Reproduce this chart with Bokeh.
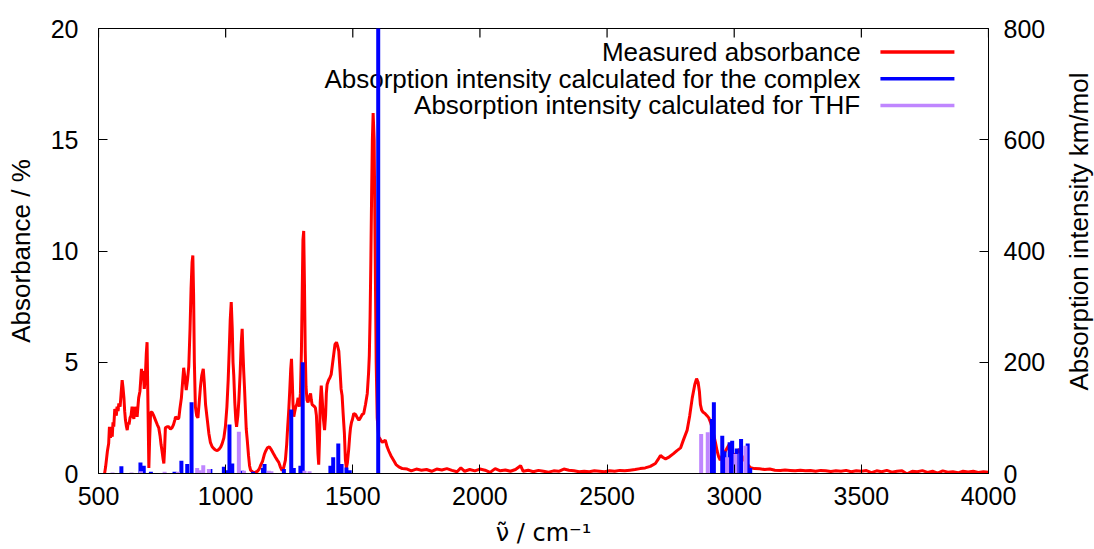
import math
from bokeh.plotting import figure
from bokeh.layouts import row
from bokeh.models import Range1d, LinearAxis, FixedTicker, Label
from bokeh.embed import file_html
from bokeh.resources import INLINE

FONT = "Liberation Sans"

# ---------------- data ----------------
red_x = [524, 528, 531, 535, 540, 543, 547, 550, 554, 557, 560, 564, 567, 570, 573, 577, 580, 585, 589, 593,
         596, 600, 603, 606, 610, 613, 617, 620, 624, 628, 632, 636, 639, 643, 647, 652, 655, 658, 663, 666,
         669, 672, 676, 680, 684, 688, 691, 694, 698, 701, 705, 711, 717, 724, 731, 737, 742, 746, 750, 754,
         757, 760, 763, 770, 776, 783, 789, 795, 800, 803, 808, 812, 816, 820, 826, 830, 835, 840, 845, 850,
         855, 860, 864, 868, 871, 874, 877, 881, 886, 891, 896, 901, 906, 912, 916, 921, 927, 934, 940, 947,
         955, 961, 967, 975, 981, 986, 993, 999, 1005, 1010, 1014, 1018, 1022, 1026, 1029, 1032, 1036, 1040, 1043, 1048,
         1052, 1057, 1061, 1065, 1068, 1071, 1074, 1078, 1081, 1085, 1090, 1094, 1098, 1105, 1110, 1117, 1125, 1132, 1137, 1145,
         1152, 1157, 1164, 1172, 1178, 1183, 1190, 1196, 1203, 1209, 1215, 1222, 1228, 1235, 1240, 1244, 1248, 1252, 1256, 1259,
         1262, 1265, 1268, 1272, 1276, 1281, 1285, 1290, 1294, 1298, 1301, 1304, 1307, 1310, 1313, 1316, 1320, 1324, 1328, 1334,
         1337, 1340, 1345, 1350, 1353, 1357, 1360, 1363, 1366, 1369, 1372, 1376, 1380, 1384, 1389, 1393, 1396, 1399, 1405, 1410,
         1415, 1420, 1425, 1430, 1436, 1440, 1445, 1450, 1454, 1458, 1462, 1467, 1471, 1475, 1479, 1484, 1488, 1491, 1495, 1498,
         1504, 1511, 1518, 1524, 1530, 1537, 1543, 1550, 1557, 1562, 1565, 1568, 1571, 1574, 1577, 1580, 1584, 1588, 1592, 1596,
         1602, 1610, 1616, 1622, 1628, 1635, 1642, 1650, 1661, 1670, 1681, 1695, 1714, 1730, 1750, 1770, 1790, 1810, 1830, 1850,
         1870, 1890, 1910, 1925, 1940, 1960, 1980, 2000, 2020, 2040, 2060, 2080, 2100, 2120, 2140, 2160, 2170, 2190, 2210, 2230,
         2250, 2270, 2290, 2310, 2330, 2350, 2370, 2390, 2410, 2430, 2450, 2470, 2490, 2510, 2530, 2550, 2570, 2590, 2610, 2630,
         2650, 2670, 2690, 2700, 2710, 2720, 2730, 2745, 2760, 2775, 2789, 2800, 2815, 2825, 2835, 2845, 2852, 2858, 2863, 2867,
         2872, 2878, 2885, 2893, 2900, 2907, 2913, 2920, 2926, 2933, 2939, 2945, 2953, 2960, 2970, 2980, 2990, 3000, 3010, 3020,
         3030, 3040, 3050, 3057, 3064, 3080, 3100, 3120, 3140, 3160, 3182, 3200, 3220, 3240, 3260, 3280, 3300, 3320, 3340, 3360,
         3380, 3400, 3420, 3440, 3460, 3480, 3500, 3520, 3540, 3560, 3580, 3600, 3620, 3640, 3660, 3680, 3700, 3720, 3740, 3760,
         3780, 3800, 3820, 3840, 3860, 3880, 3900, 3920, 3940, 3960, 3980, 4000]
red_y = [0.0, 0.3, 0.6, 1.0, 1.35, 2.1, 1.6, 2.1, 1.65, 2.3, 2.1, 2.9, 2.8, 2.6, 3.0, 2.8, 3.15, 3.0, 3.6, 4.2,
         3.9, 3.4, 2.8, 2.4, 2.1, 1.95, 2.3, 2.2, 2.5, 2.6, 3.0, 2.6, 2.45, 3.0, 2.8, 2.55, 3.0, 3.4, 3.7, 4.2,
         4.7, 4.3, 4.6, 3.8, 4.3, 5.4, 5.9, 3.5, 0.25, 1.5, 2.75, 2.75, 2.6, 2.4, 2.2, 2.05, 1.7, 1.3, 1.0, 0.65,
         0.45, 1.1, 2.05, 2.1, 2.1, 2.0, 2.05, 2.2, 2.4, 2.55, 2.5, 2.45, 2.5, 2.9, 3.4, 4.0, 4.75, 4.3, 3.75, 4.2,
         4.8, 6.5, 8.3, 9.5, 9.8, 8.0, 5.0, 3.0, 2.6, 2.5, 3.2, 3.9, 4.4, 4.7, 4.1, 3.1, 2.5, 1.8, 1.4, 1.2,
         1.1, 1.05, 1.03, 1.1, 1.2, 1.33, 1.6, 2.1, 3.0, 4.2, 5.5, 6.9, 7.7, 6.5, 5.0, 4.4, 3.2, 2.4, 2.1, 2.6,
         3.3, 4.5, 5.8, 6.5, 5.5, 4.6, 3.9, 2.8, 2.0, 1.5, 0.8, 0.35, 0.15, 0.08, 0.05, 0.06, 0.1, 0.2, 0.35, 0.55,
         0.85, 1.0, 1.15, 1.2, 1.1, 1.0, 0.85, 0.73, 0.6, 0.5, 0.3, 0.13, 0.25, 0.6, 1.3, 2.1, 2.8, 3.7, 4.7, 5.15,
         4.2, 3.1, 2.55, 2.8, 3.0, 3.15, 3.4, 3.0, 3.6, 5.5, 8.0, 10.5, 10.9, 8.5, 5.5, 3.9, 3.3, 3.2, 3.4, 3.6,
         3.3, 3.1, 3.05, 3.0, 2.95, 2.6, 1.8, 0.9, 0.4, 1.5, 3.2, 3.95, 3.3, 2.5, 1.95, 2.6, 3.6, 4.0, 4.2, 4.3,
         4.45, 4.9, 5.35, 5.8, 5.9, 5.75, 5.5, 4.6, 3.8, 3.5, 2.7, 1.8, 0.6, 0.25, 0.5, 1.1, 1.7, 2.05, 2.3, 2.4,
         2.7, 2.65, 2.5, 2.4, 2.5, 2.65, 2.7, 3.1, 3.6, 4.5, 5.3, 7.0, 9.5, 12.5, 15.0, 16.2, 15.0, 10.0, 5.0, 2.5,
         1.65, 1.5, 1.4, 1.45, 1.5, 1.2, 1.0, 0.8, 0.58, 0.4, 0.3, 0.22, 0.2, 0.12, 0.2, 0.15, 0.18, 0.1, 0.2, 0.16,
         0.22, 0.14, 0.08, 0.25, 0.1, 0.18, 0.12, 0.2, 0.15, 0.05, 0.22, 0.12, 0.16, 0.1, 0.18, 0.35, 0.1, 0.15, 0.08, 0.14,
         0.1, 0.06, 0.12, 0.1, 0.2, 0.15, 0.12, 0.08, 0.1, 0.08, 0.12, 0.1, 0.08, 0.12, 0.1, 0.14, 0.12, 0.15, 0.18, 0.22,
         0.25, 0.32, 0.45, 0.62, 0.81, 0.72, 0.66, 0.75, 0.88, 1.03, 1.15, 1.5, 1.95, 2.6, 3.4, 4.0, 4.26, 4.1, 3.7, 3.1,
         2.85, 2.75, 2.7, 2.6, 2.5, 2.3, 2.05, 1.7, 1.4, 1.0, 0.75, 0.6, 0.8, 0.9, 1.1, 1.3, 1.0, 0.8, 0.9, 1.1,
         0.8, 0.6, 0.45, 0.35, 0.26, 0.22, 0.21, 0.18, 0.2, 0.15, 0.13, 0.16, 0.14, 0.12, 0.15, 0.12, 0.13, 0.1, 0.14, 0.12,
         0.09, 0.12, 0.1, 0.14, 0.08, 0.12, 0.1, 0.13, 0.04, 0.12, 0.08, 0.14, 0.06, 0.1, 0.12, -0.02, 0.1, 0.08, 0.13, 0.05,
         0.1, 0.02, 0.12, 0.06, 0.08, 0.03, 0.1, 0.07, 0.1, 0.05, 0.08, 0.06]

complex_x = [590, 665, 678, 706, 799, 826, 849, 866, 940, 993, 1003, 1015, 1026, 1065, 1108, 1147, 1153,
             1229, 1258, 1268, 1294, 1303, 1412, 1423, 1443, 1456, 1475, 1488, 1600,
             2912, 2920, 2953, 2962, 2982, 2992, 3010, 3027, 3053, 3063]
complex_int = [13, 20, 14, 3, 3, 23, 17, 128, 8, 12, 6, 88, 18, 5, 3, 10, 17,
               8, 115, 10, 14, 200, 14, 29, 54, 17, 11, 6, 1200,
               98, 128, 68, 40, 56, 59, 45, 62, 54, 10]

thf_x = [555, 630, 667, 760, 812, 888, 898, 912, 934, 1052, 1072, 1170, 1180, 1310, 1330,
         2870, 2896, 2972, 3005, 3044]
thf_int = [2, 2, 4, 3, 3, 10, 6, 15, 8, 75, 5, 5, 4, 5, 4,
           71, 74, 29, 35, 50]

x_ticks = [500, 1000, 1500, 2000, 2500, 3000, 3500, 4000]
y_ticks = [0, 5, 10, 15, 20]
y2_ticks = [0, 200, 400, 600, 800]

x_title = "ν̃ / cm⁻¹"
y_title = "Absorbance / %"
y2_title = "Absorption intensity km/mol"
legend_labels = ["Measured absorbance",
                 "Absorption intensity calculated for the complex",
                 "Absorption intensity calculated for THF"]
colors = ["#ff0000", "#0000ff", "#bf86ff"]

X_MIN, X_MAX, Y_MIN, Y_MAX, Y2_MAX = 500, 4000, 0, 20, 800

TOTAL_W, TOTAL_H = 1094, 549
STRIP_W = 40                      # narrow strip that carries the right-axis title
TOP, BOTTOM = 28, 76

# ---------------- main figure ----------------
p = figure(width=TOTAL_W - STRIP_W, height=TOTAL_H, x_range=Range1d(X_MIN, X_MAX),
           y_range=Range1d(Y_MIN, Y_MAX), output_backend="svg", toolbar_location=None,
           min_border_left=98, min_border_right=106 - STRIP_W, min_border_top=TOP,
           min_border_bottom=BOTTOM)
p.extra_y_ranges = {"int": Range1d(0, Y2_MAX)}
p.xgrid.visible = False
p.ygrid.visible = False
p.outline_line_color = "black"
p.outline_line_width = 1
p.outline_line_alpha = 1.0
p.background_fill_color = "white"
p.border_fill_color = "white"


def style(ax, ticks):
    ax.ticker = FixedTicker(ticks=ticks)
    ax.major_tick_in = 9
    ax.major_tick_out = 0
    ax.minor_tick_in = 0
    ax.minor_tick_out = 0
    ax.major_tick_line_color = "black"
    ax.axis_line_color = "black"
    ax.major_label_text_font = FONT
    ax.major_label_text_color = "black"
    ax.major_label_text_font_size = "25px"
    ax.axis_label_text_font = FONT
    ax.axis_label_text_font_style = "normal"
    ax.axis_label_text_color = "black"
    ax.axis_label_text_font_size = "26px"


style(p.xaxis[0], x_ticks)
p.xaxis[0].axis_label = x_title
p.xaxis[0].axis_label_text_font = "DejaVu Sans"
p.xaxis[0].axis_label_text_font_size = "24px"
p.xaxis[0].major_label_standoff = 13
p.xaxis[0].axis_label_standoff = 11

style(p.yaxis[0], y_ticks)
p.yaxis[0].axis_label = y_title
p.yaxis[0].major_label_standoff = 20
p.yaxis[0].axis_label_standoff = 12

right = LinearAxis(y_range_name="int")
style(right, y2_ticks)
right.major_label_standoff = 15
p.add_layout(right, "right")

# mirrored tick marks along the top edge
p.segment(x0=x_ticks, y0=[Y_MAX] * len(x_ticks), x1=x_ticks, y1=[Y_MAX - 0.4] * len(x_ticks),
          color="black", line_width=1.2)

# ---------------- key (text right, sample line on the right) ----------------
key_rows = [18.94, 17.74, 16.54]
for lab, yy in zip(legend_labels, key_rows):
    p.add_layout(Label(x=3497, y=yy, text=lab, text_align="right", text_baseline="middle",
                       text_font=FONT, text_font_size="26px", text_color="black",
                       level="underlay"))

# ---------------- data marks ----------------
p.line(red_x, red_y, color=colors[0], line_width=3)
p.segment(x0=complex_x, y0=[0] * len(complex_x), x1=complex_x, y1=complex_int,
          y_range_name="int", color=colors[1], line_width=4)
p.segment(x0=thf_x, y0=[0] * len(thf_x), x1=thf_x, y1=thf_int,
          y_range_name="int", color=colors[2], line_width=4)

p.segment(x0=[3575] * 3, y0=key_rows, x1=[3866] * 3, y1=key_rows, color=colors, line_width=3.5)

# ---------------- strip with the right-axis title, reading bottom-to-top ----------------
q = figure(width=STRIP_W, height=TOTAL_H, x_range=Range1d(0, STRIP_W), y_range=Range1d(0, TOTAL_H),
           output_backend="svg", toolbar_location=None, x_axis_location=None, y_axis_location=None,
           min_border=0, outline_line_color=None)
q.xgrid.visible = False
q.ygrid.visible = False
q.background_fill_color = "white"
q.border_fill_color = "white"
frame_mid = TOTAL_H - (TOP + (TOTAL_H - BOTTOM)) / 2
q.add_layout(Label(x=24, y=frame_mid, text=y2_title, angle=math.pi / 2, text_align="center",
                   text_baseline="middle", text_font=FONT, text_font_size="26px",
                   text_color="black"))

layout = row(p, q)
open("out.html", "w").write(file_html(layout, INLINE))
